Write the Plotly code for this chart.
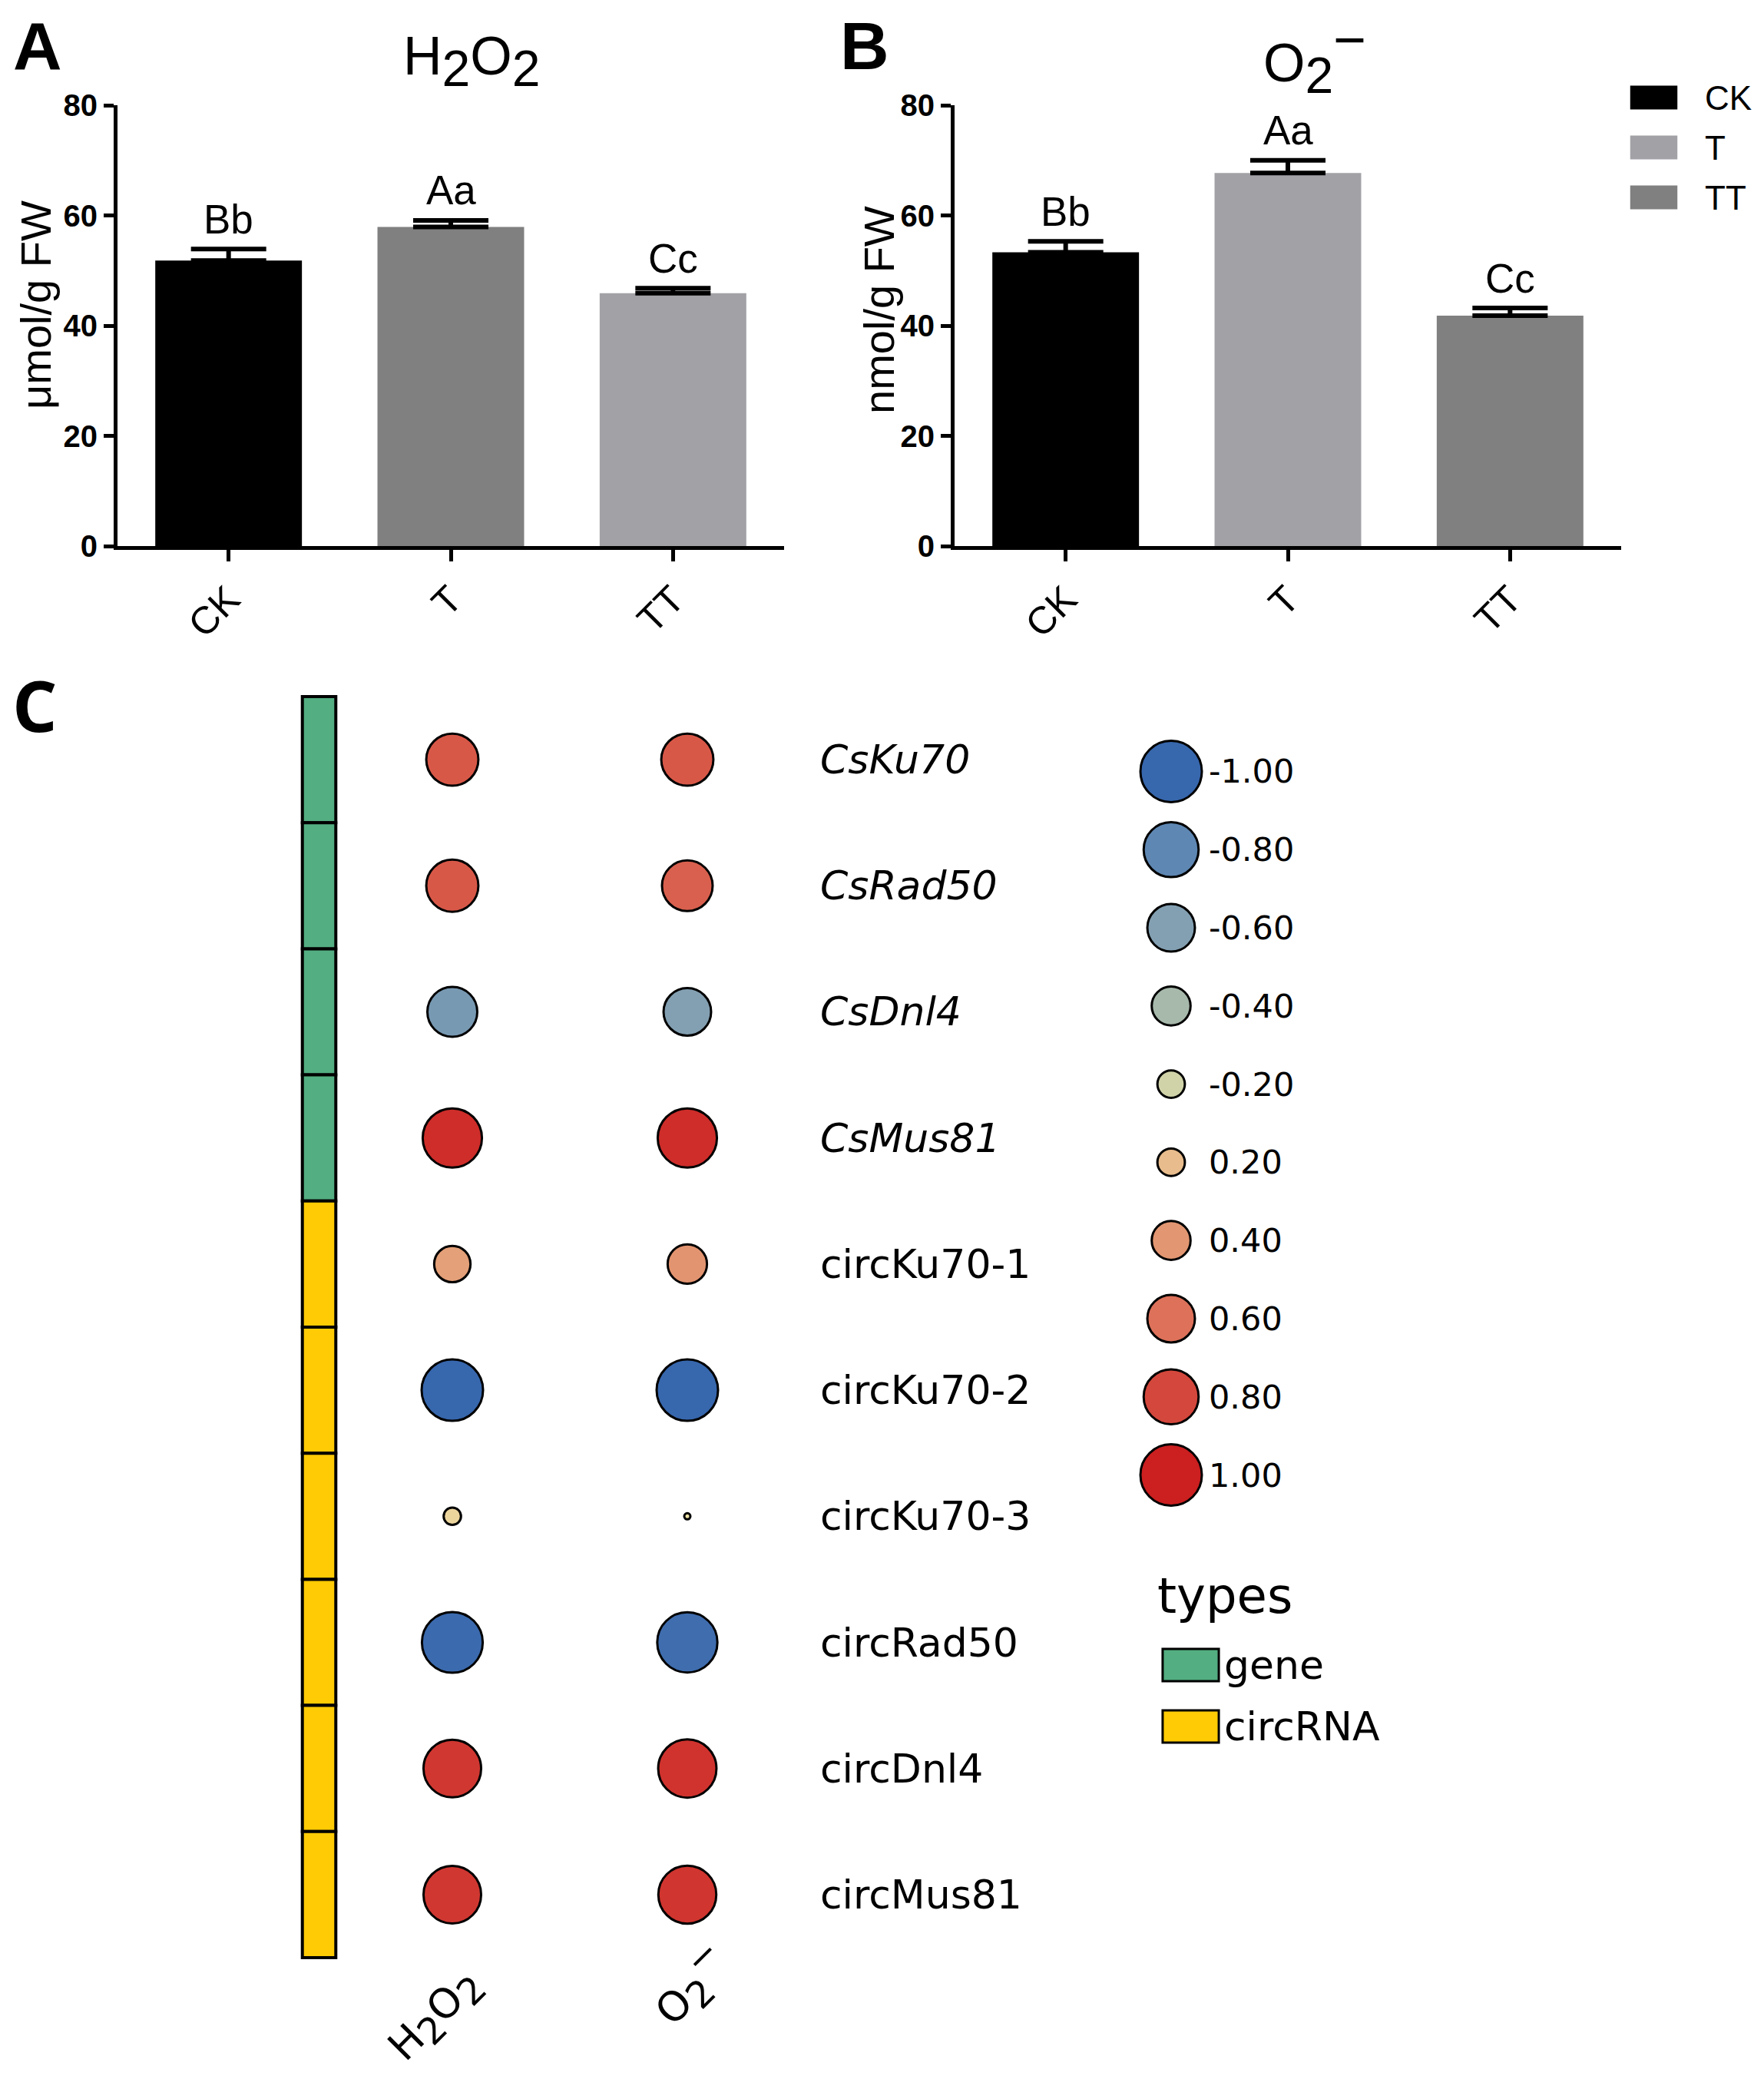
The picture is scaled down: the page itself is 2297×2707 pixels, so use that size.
import math
import plotly.graph_objects as go

# ---------------- data ----------------
groups = ["CK", "T", "TT"]
h2o2_mean = [51.8, 57.9, 45.9]
h2o2_err = [2.1, 1.2, 0.9]
h2o2_letters = ["Bb", "Aa", "Cc"]
o2_mean = [53.3, 67.7, 41.8]
o2_err = [2.0, 2.3, 1.4]
o2_letters = ["Bb", "Aa", "Cc"]
y_ticks = [0, 20, 40, 60, 80]

genes = ["CsKu70", "CsRad50", "CsDnl4", "CsMus81", "circKu70-1",
         "circKu70-2", "circKu70-3", "circRad50", "circDnl4", "circMus81"]
gene_types = ["gene", "gene", "gene", "gene", "circRNA",
              "circRNA", "circRNA", "circRNA", "circRNA", "circRNA"]
columns = ["H2O2", "O2-"]
column_labels = ['H<sub><span style="font-size:130%">2</span></sub>O<sub><span style="font-size:130%">2</span></sub>',
                 'O<sub><span style="font-size:130%">2</span></sub><sup><span style="font-size:130%">−</span></sup>']
r_h2o2 = [0.72, 0.72, -0.66, 0.93, 0.35, -1.00, 0.08, -0.98, 0.88, 0.88]
r_o2 = [0.72, 0.68, -0.60, 0.93, 0.41, -1.00, 0.01, -0.96, 0.90, 0.89]
legend_levels = [-1.0, -0.8, -0.6, -0.4, -0.2, 0.2, 0.4, 0.6, 0.8, 1.0]
type_names = ["gene", "circRNA"]

# ---------------- style ----------------
OFF = 8                       # browser body margin
FW, FH = 2297 - 2 * OFF, 2707 - 2 * OFF
ARIAL = "Liberation Sans, Arial, Helvetica, sans-serif"
VERD = "DejaVu Sans, Verdana, sans-serif"
colors_A = ["#000000", "#808080", "#A2A1A6"]
colors_B = ["#000000", "#A2A1A6", "#808080"]
type_colors = {"gene": "#53AE81", "circRNA": "#FFCB05"}
CS = [[0.0, "#3767AD"], [0.1, "#5E87B3"], [0.2, "#83A0B2"], [0.3, "#A7B9AB"],
      [0.4, "#D0D3A8"], [0.5, "#EFE6A8"], [0.6, "#E8BC8C"], [0.7, "#E29671"],
      [0.8, "#DD715A"], [0.9, "#D4473C"], [1.0, "#CB1F20"]]


def X(p):
    return (p - OFF) / FW


def Y(p):
    return 1 - (p - OFF) / FH


def dx(a, b):
    return [X(a), X(b)]


def dy(top, bottom):
    return [Y(bottom), Y(top)]


def msize(r):
    return 80 * math.sqrt(abs(r))


fig = go.Figure()

# ---- panel A / B bars ----
for means, errs, cols, xa, ya in [(h2o2_mean, h2o2_err, colors_A, "x", "y"),
                                  (o2_mean, o2_err, colors_B, "x2", "y2")]:
    fig.add_trace(go.Bar(
        x=groups, y=means, width=0.66, xaxis=xa, yaxis=ya, showlegend=False,
        marker=dict(color=cols, line=dict(width=0)),
        error_y=dict(type="data", array=errs, arrayminus=[0] * len(errs),
                     symmetric=False, color="black", thickness=6, width=49)))

# ---- panel C side bar ----
fig.add_trace(go.Bar(
    orientation="h", x=[1] * len(genes), y=genes, base=0, width=1,
    xaxis="x5", yaxis="y3", showlegend=False,
    marker=dict(color=[type_colors[t] for t in gene_types],
                line=dict(color="black", width=4))))

# ---- panel C dots ----
for col, rvals in zip(columns, [r_h2o2, r_o2]):
    fig.add_trace(go.Scatter(
        x=[col] * len(genes), y=genes, mode="markers", xaxis="x3", yaxis="y3",
        cliponaxis=False, showlegend=False,
        marker=dict(size=[msize(r) for r in rvals], color=rvals, colorscale=CS,
                    cmin=-1, cmax=1, line=dict(color="black", width=3),
                    opacity=1)))

# ---- size/colour legend ----
fig.add_trace(go.Scatter(
    x=[0.5] * len(legend_levels), y=list(range(len(legend_levels))),
    mode="markers", xaxis="x4", yaxis="y4", cliponaxis=False, showlegend=False,
    marker=dict(size=[msize(v) for v in legend_levels], color=legend_levels,
                colorscale=CS, cmin=-1, cmax=1, opacity=1,
                line=dict(color="black", width=3))))

# ---- types legend ----
fig.add_trace(go.Bar(
    orientation="h", x=[1] * len(type_names), y=type_names, base=0, width=0.525,
    xaxis="x6", yaxis="y6", showlegend=False,
    marker=dict(color=[type_colors[t] for t in type_names],
                line=dict(color="black", width=3))))

# ---- group legend ----
fig.add_trace(go.Bar(
    orientation="h", x=[1] * len(groups), y=groups, base=0, width=0.477,
    xaxis="x7", yaxis="y7", showlegend=False,
    marker=dict(color=colors_B, line=dict(width=0))))

hidden = dict(showticklabels=False, showline=False, showgrid=False,
              zeroline=False, ticks="", automargin=False)

bar_y = dict(range=[0, 80], tickvals=y_ticks, ticks="outside", ticklen=13,
             tickwidth=5, tickcolor="black", showline=True, linewidth=5,
             linecolor="black", showgrid=False, zeroline=False, automargin=False,
             tickfont=dict(family=ARIAL, size=40, color="black", weight="bold"))
bar_x = dict(ticks="outside", ticklen=15, tickwidth=5, tickcolor="black",
             showline=True, linewidth=5, linecolor="black", showgrid=False,
             automargin=False, tickangle=-45,
             tickfont=dict(family=ARIAL, size=50, color="black"),
             range=[-0.5, 2.5])

fig.update_layout(
    width=FW, height=FH,
    margin=dict(l=0, r=0, t=0, b=0, pad=0, autoexpand=False),
    paper_bgcolor="white", plot_bgcolor="rgba(0,0,0,0)", showlegend=False,
    xaxis=dict(domain=dx(153, 1021), anchor="y", **bar_x),
    yaxis=dict(domain=dy(137, 711), anchor="x", **bar_y),
    xaxis2=dict(domain=dx(1243, 2111), anchor="y2", **bar_x),
    yaxis2=dict(domain=dy(137, 711), anchor="x2", **bar_y),
    xaxis3=dict(domain=dx(436, 1048), anchor="y3", range=[-0.5, 1.5],
                categoryorder="array", categoryarray=columns, **hidden),
    yaxis3=dict(domain=dy(907 - 3.3, 2549 + 3.3), anchor="x3",
                range=[len(genes) - 0.48, -0.52],
                categoryorder="array", categoryarray=genes, **hidden),
    xaxis5=dict(domain=dx(391, 440), anchor="y3", range=[-0.0625, 1.0625],
                **hidden),
    xaxis4=dict(domain=dx(1480, 1570), anchor="y4", range=[0, 1], **hidden),
    yaxis4=dict(domain=dy(953.6, 1971.4), anchor="x4",
                range=[len(legend_levels) - 0.5, -0.5], **hidden),
    xaxis6=dict(domain=dx(1511, 1590), anchor="y6", range=[-0.04, 1.04],
                **hidden),
    yaxis6=dict(domain=dy(2128, 2288), anchor="x6", range=[1.5, -0.5],
                categoryorder="array", categoryarray=type_names, **hidden),
    xaxis7=dict(domain=dx(2120, 2187), anchor="y7", range=[-0.045, 1.045],
                **hidden),
    yaxis7=dict(domain=dy(94.5, 289.5), anchor="x7", range=[2.5, -0.5],
                categoryorder="array", categoryarray=groups, **hidden),
)

ann = []


def A(**kw):
    kw.setdefault("showarrow", False)
    kw.setdefault("xanchor", "center")
    kw.setdefault("yanchor", "middle")
    ann.append(kw)


# panel letters
A(text="A", x=X(49), y=Y(60), xref="paper", yref="paper",
  font=dict(family=ARIAL, size=88, color="black", weight="bold"))
A(text="B", x=X(1126), y=Y(60), xref="paper", yref="paper",
  font=dict(family=ARIAL, size=88, color="black", weight="bold"))
A(text="C", x=X(45), y=Y(918), xref="paper", yref="paper",
  font=dict(family="Open Sans, " + ARIAL, size=92, color="black", weight="bold"))

# titles
A(text='H<sub><span style="font-size:135%">2</span></sub>O<sub><span style="font-size:135%">2</span></sub>',
  x=X(614), y=Y(80), xref="paper", yref="paper",
  font=dict(family=ARIAL, size=70, color="black"))
A(text='O<sub><span style="font-size:135%">2</span></sub><sup><span style="font-size:150%">−</span></sup>',
  x=X(1712), y=Y(72), xref="paper", yref="paper",
  font=dict(family=ARIAL, size=70, color="black"))

# y-axis titles
A(text="μmol/g FW", x=X(46), y=Y(397), xref="paper", yref="paper", textangle=-90,
  font=dict(family=ARIAL, size=56, color="black"))
A(text="nmol/g FW", x=X(1144), y=Y(404), xref="paper", yref="paper", textangle=-90,
  font=dict(family=ARIAL, size=56, color="black"))

# significance letters
for means, errs, letters, xa, ya in [(h2o2_mean, h2o2_err, h2o2_letters, "x", "y"),
                                     (o2_mean, o2_err, o2_letters, "x2", "y2")]:
    for g, m, e, L in zip(groups, means, errs, letters):
        A(text=L, x=g, y=m + e, xref=xa, yref=ya, yshift=39,
          font=dict(family=ARIAL, size=53, color="black"))

# group legend labels
for g in groups:
    A(text=g, x=X(2218), y=g, xref="paper", yref="y7", xanchor="left",
      font=dict(family=ARIAL, size=44, color="black"))

# row labels
for g, t in zip(genes, gene_types):
    txt = "<i>%s</i>" % g if t == "gene" else g
    A(text=txt, x=X(1066), y=g, xref="paper", yref="y3", xanchor="left",
      font=dict(family=VERD, size=52, color="black"))

# column labels (rotated)
for col, lab, sx, cy in zip(columns, column_labels, [-21, 4], [2626, 2584]):
    A(text=lab, x=col, xref="x3", xshift=sx, y=Y(cy), yref="paper",
      textangle=-45, font=dict(family=VERD, size=53, color="black"))

# value legend labels
for i, v in enumerate(legend_levels):
    A(text="%.2f" % v, x=X(1572), y=i, xref="paper", yref="y4", xanchor="left",
      font=dict(family=VERD, size=43, color="black"))

# types legend
A(text="types", x=X(1505), y=Y(2078), xref="paper", yref="paper", xanchor="left",
  font=dict(family=VERD, size=64, color="black"))
for t in type_names:
    A(text=t, x=X(1592), y=t, xref="paper", yref="y6", xanchor="left",
      font=dict(family=VERD, size=52, color="black"))

fig.update_layout(annotations=ann)
fig.write_html("out.html")
